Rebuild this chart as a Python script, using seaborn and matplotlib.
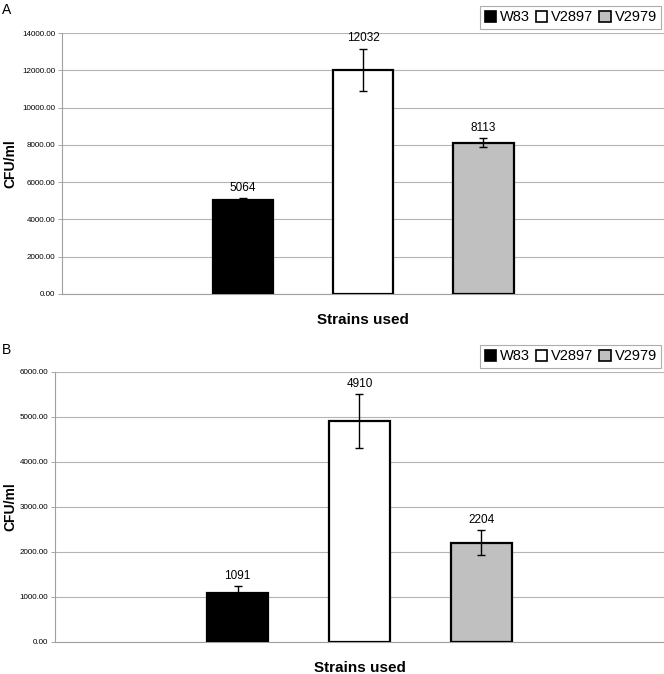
"""
CFU/ml per strain, two panels (A, B).
"""
import matplotlib
matplotlib.use("Agg")
import matplotlib.pyplot as plt
import matplotlib.ticker as mticker
from matplotlib.patches import Patch
import pandas as pd
import seaborn as sns

# ================================
# DATA
# ================================
strains = ["W83", "V2897", "V2979"]
colors = ["#000000", "#ffffff", "#c0c0c0"]

cfu_a = [5064, 12032, 8113]
err_a = [90, 1130, 250]

cfu_b = [1091, 4910, 2204]
err_b = [160, 590, 280]

sns.set_style("white")
plt.rcParams["font.family"] = ["Liberation Sans", "DejaVu Sans"]
plt.rcParams["text.color"] = "black"
plt.rcParams["axes.labelcolor"] = "black"
plt.rcParams["ytick.labelcolor"] = "black"


def draw_panel(fig, rect, values, errs, ymax, step, letter, letter_y):
    ax = fig.add_axes(rect)
    df = pd.DataFrame({"strain": strains, "cfu": values})
    sns.barplot(data=df, x="strain", y="cfu", hue="strain", order=strains,
                hue_order=strains, palette=colors, dodge=False,
                edgecolor="black", linewidth=1.6, width=0.5,
                legend=False, ax=ax, zorder=3)

    # error bars + value labels on top of each bar
    for patch, v, e in zip(ax.patches, values, errs):
        xc = patch.get_x() + patch.get_width() / 2
        ax.errorbar(xc, v, yerr=e, fmt="none", ecolor="black",
                    elinewidth=1.0, capsize=3, capthick=1.0, zorder=4)
        ax.annotate(f"{v}", (xc, v + e), xytext=(0, 3),
                    textcoords="offset points", ha="center", va="bottom",
                    fontsize=8.5, color="black")

    ax.set_xlim(-1.5, 3.5)
    ax.set_ylim(0, ymax)
    ax.yaxis.set_major_locator(mticker.MultipleLocator(step))
    ax.yaxis.set_major_formatter(mticker.FormatStrFormatter("%.2f"))
    ax.set_xticks([])
    ax.tick_params(axis="y", labelsize=5.8, length=3, width=0.6,
                   color="#999999", pad=2, left=True, labelcolor="black")
    ax.grid(axis="y", color="#b4b4b4", linewidth=0.8, zorder=0)
    ax.set_axisbelow(True)

    for side in ["top", "right"]:
        ax.spines[side].set_visible(False)
    for side in ["left", "bottom"]:
        ax.spines[side].set_color("#a0a0a0")
        ax.spines[side].set_linewidth(0.8)

    ax.set_ylabel("CFU/ml", fontsize=10, fontweight="bold", color="black")
    # put the y label at the same figure x in both panels (~16 px from left)
    fig_w = fig.get_size_inches()[0] * fig.dpi
    left_px = rect[0] * fig_w
    width_px = rect[2] * fig_w
    ax.yaxis.set_label_coords((17 - left_px) / width_px, 0.5)
    ax.set_xlabel("Strains used", fontsize=11, fontweight="bold",
                  labelpad=14, color="black")

    handles = [Patch(facecolor=c, edgecolor="black", linewidth=1.2, label=s)
               for s, c in zip(strains, colors)]
    leg = ax.legend(handles=handles, ncol=3, loc="lower right",
                    bbox_to_anchor=(1.0, 1.005), fontsize=10.5,
                    frameon=True, fancybox=False, handlelength=0.8,
                    handleheight=0.8, handletextpad=0.25, columnspacing=0.4,
                    borderpad=0.3, borderaxespad=0.2)
    leg.get_frame().set_edgecolor("#999999")
    leg.get_frame().set_linewidth(0.8)
    for t in leg.get_texts():
        t.set_color("black")

    fig.text(0.003, letter_y, letter, fontsize=10, va="center", ha="left",
             color="black")
    return ax


fig = plt.figure(figsize=(6.64, 6.74), dpi=100)

draw_panel(fig, [0.0934, 0.5638, 0.9066, 0.3872], cfu_a, err_a,
           14000, 2000, "A", 0.985)
draw_panel(fig, [0.0828, 0.0475, 0.9172, 0.4006], cfu_b, err_b,
           6000, 1000, "B", 0.481)

fig.savefig("out.png", dpi=100)
plt.close(fig)
